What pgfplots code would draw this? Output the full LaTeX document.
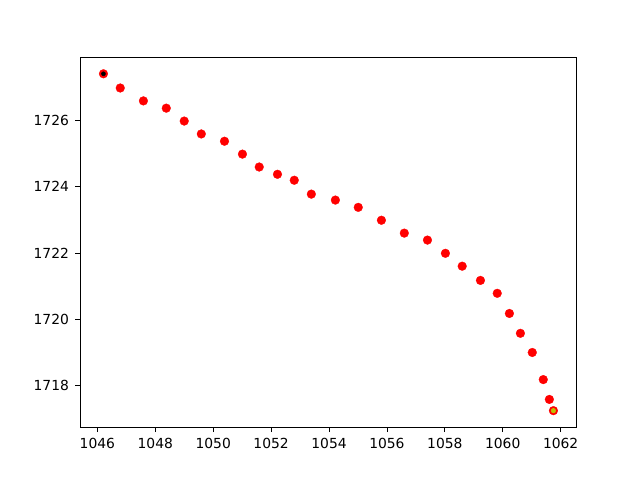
\documentclass[border=0pt]{standalone}
\usepackage{pgfplots}
\pgfplotsset{compat=1.18}
\usepackage{fontspec}
\setmainfont{DejaVu Sans}
\definecolor{mplolive}{rgb}{0.75,0.75,0}
\begin{document}
\fontsize{10.4pt}{12.5pt}\selectfont
\begin{tikzpicture}
\begin{axis}[
  scale only axis,
  width=372pt, height=277.2pt,
  xmin=1045.40, xmax=1062.53,
  ymin=1716.73, ymax=1727.91,
  xtick={1046,1048,...,1062},
  ytick={1718,1720,...,1726},
  tick pos=left,
  tick align=outside,
  major tick length=3.65pt,
  every tick/.style={black, line width=0.6pt},
  axis line style={line width=0.6pt},
  /pgf/number format/assume math mode=true,
  /pgf/number format/1000 sep={},
  ticklabel style={font=\fontsize{10.4pt}{12.5pt}\selectfont},
  xticklabel style={yshift=-1pt},
  yticklabel style={xshift=-1pt},
  clip=false,
]
\addplot[only marks, mark=*, mark size=3.3pt, color=red, mark options={fill=red, draw=red, line width=0.2pt}] coordinates {
(1046.21,1727.42) (1046.79,1726.99) (1047.59,1726.60) (1048.38,1726.38)
(1049.00,1725.99) (1049.59,1725.60) (1050.39,1725.38) (1051.01,1724.99)
(1051.59,1724.60) (1052.22,1724.38) (1052.80,1724.20) (1053.39,1723.78)
(1054.22,1723.60) (1055.01,1723.38) (1055.81,1722.99) (1056.60,1722.60)
(1057.40,1722.39) (1058.02,1721.99) (1058.60,1721.60) (1059.23,1721.17)
(1059.81,1720.78) (1060.23,1720.17) (1060.61,1719.57) (1061.02,1718.99)
(1061.40,1718.17) (1061.61,1717.57) (1061.75,1717.23)
};
\addplot[only marks, mark=*, mark size=1.5pt, color=black] coordinates {(1046.21,1727.42)};
\addplot[only marks, mark=*, mark size=1.7pt, color=mplolive] coordinates {(1061.75,1717.23)};
\end{axis}
\path ([xshift=-60pt,yshift=-39.6pt]current axis.south west) rectangle ([xshift=48pt,yshift=43.2pt]current axis.north east);
\end{tikzpicture}
\end{document}
